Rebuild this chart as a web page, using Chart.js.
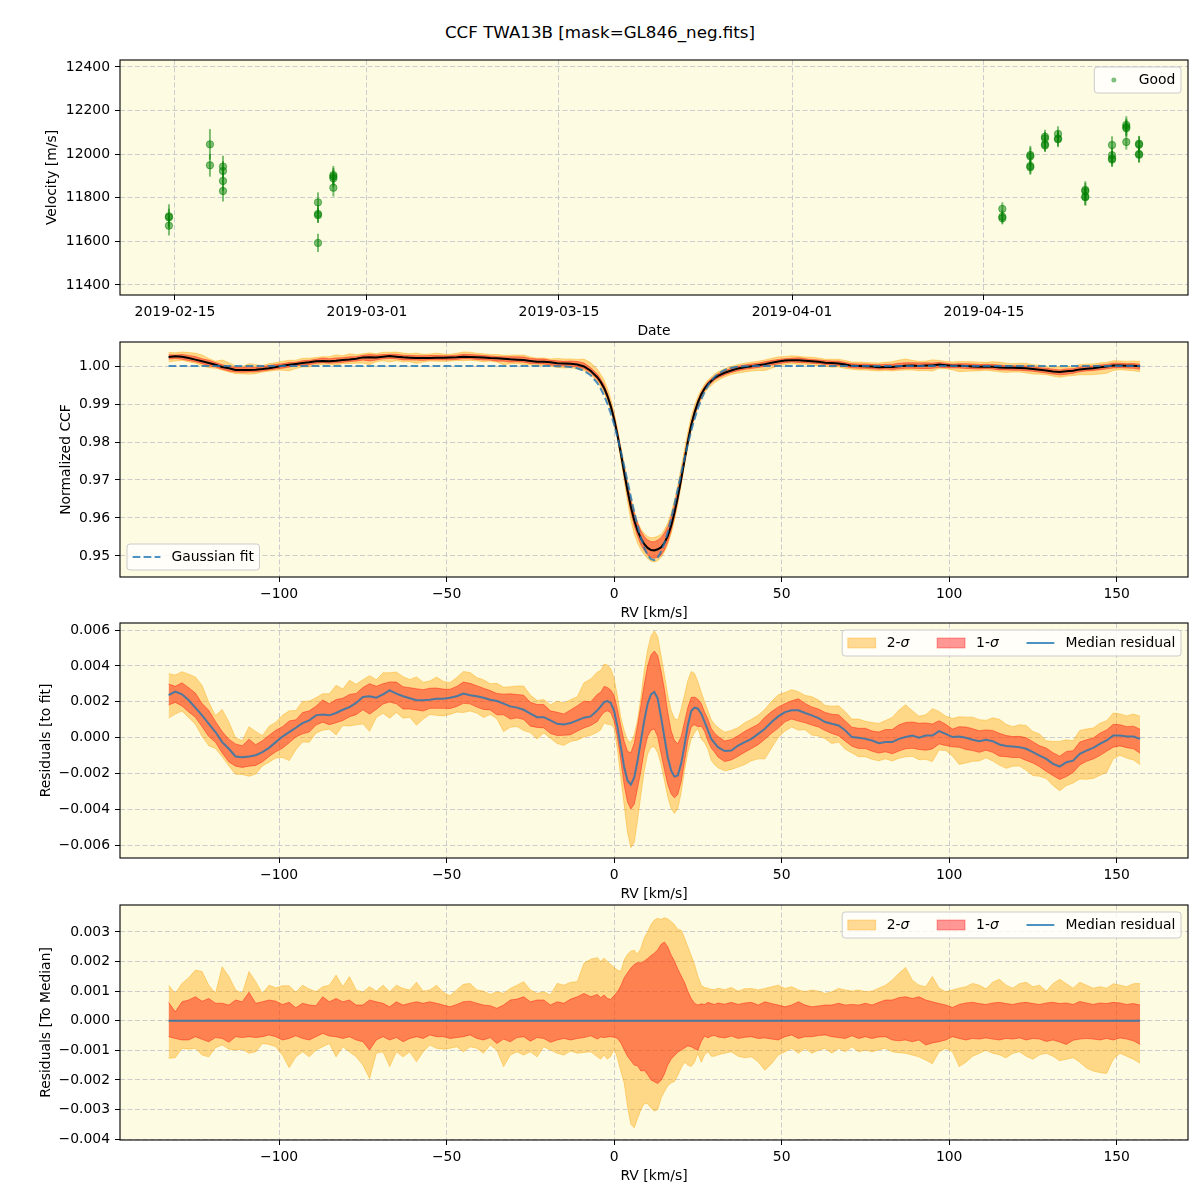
<!DOCTYPE html>
<html>
<head>
<meta charset="utf-8">
<script src="https://cdn.jsdelivr.net/npm/chart.js@4.4.1/dist/chart.umd.min.js"></script>
<style>
  body { margin: 0; background: #ffffff; width: 1200px; height: 1200px; position: relative; overflow: hidden; }
  canvas { position: absolute; left: 0; }
  #suptitle { position: absolute; left: 0; top: 22px; width: 1200px; text-align: center;
    font-family: "DejaVu Sans", sans-serif; font-size: 16.7px; line-height: 20px; color: #000; }
</style>
</head>
<body>
<div id="suptitle">CCF TWA13B [mask=GL846_neg.fits]</div>
<canvas id="velChart" width="1200" height="338" style="top:0px"></canvas>
<canvas id="ccfChart" width="1200" height="282" style="top:338px"></canvas>
<canvas id="fitResChart" width="1200" height="281" style="top:620px"></canvas>
<canvas id="medResChart" width="1200" height="282" style="top:901px"></canvas>
<script>
// ---- radial velocities (days since 2019-02-15) ----
const velDay = [-0.44, -0.44, -0.44, 2.55, 2.55, 3.5, 3.5, 3.5, 3.5,
  10.43, 10.43, 10.43, 10.43, 11.55, 11.55, 11.55, 11.55,
  60.34, 60.34, 60.34, 62.38, 62.38, 62.38, 62.38, 63.45, 63.45, 63.45, 63.45,
  64.40, 64.40, 64.40, 66.39, 66.39, 66.39, 66.39, 68.34, 68.34, 68.34, 68.34,
  69.38, 69.38, 69.38, 69.38, 70.31, 70.31, 70.31, 70.31];
const velValue = [11715, 11710, 11672, 12045, 11949, 11943, 11923, 11877, 11831,
  11779, 11726, 11720, 11593, 11904, 11897, 11889, 11846,
  11749, 11713, 11706, 11996, 11990, 11946, 11940, 12080, 12072, 12046, 12040,
  12093, 12072, 12068, 11836, 11830, 11806, 11802, 12042, 11995, 11980, 11975,
  12134, 12125, 12119, 12056, 12048, 12043, 12001, 11997];
const velError = [55, 40, 45, 70, 52, 50, 45, 45, 48,
  46, 40, 35, 42, 42, 40, 40, 40,
  30, 30, 28, 42, 40, 35, 34, 32, 30, 32, 30,
  35, 35, 36, 40, 38, 40, 38, 40, 35, 36, 33,
  40, 38, 38, 35, 36, 38, 38, 36];
const dateTickDays = [0, 14, 28, 45, 59];
const dateTickLabels = ['2019-02-15', '2019-03-01', '2019-03-15', '2019-04-01', '2019-04-15'];
const velTicks = [11400, 11600, 11800, 12000, 12200, 12400];

// ---- CCF grid (km/s) ----
const rvGrid = [
  -133, -131, -129, -127, -125, -123, -121, -119, -117, -115, -113, -111, -109, -107, -105, -103, -101, -99, -97, -95,
  -93, -91, -89, -87, -85, -83, -81, -79, -77, -75, -73, -71, -69, -67, -65, -63, -61, -59, -57, -55,
  -53, -51, -49, -47, -45, -43, -41, -39, -37, -35, -33, -31, -29, -27, -25, -23, -21, -19, -17, -15,
  -13, -11, -9, -7, -5,
  -4, -3, -2, -1, 0, 1, 2, 3, 4, 5, 6, 7, 8, 9, 10, 11, 12, 13, 14, 15,
  16, 17, 18, 19, 20, 21, 22, 23, 24, 25, 26, 27, 28, 29, 30,
  31, 33, 35, 37, 39, 41, 43, 45, 47, 49, 51, 53, 55, 57, 59, 61, 63, 65, 67, 69,
  71, 73, 75, 77, 79, 81, 83, 85, 87, 89, 91, 93, 95, 97, 99, 101, 103, 105, 107, 109,
  111, 113, 115, 117, 119, 121, 123, 125, 127, 129, 131, 133, 135, 137, 139, 141, 143, 145, 147, 149,
  151, 153, 155, 157];

// gaussian fit
const gaussFit = [
  1, 1, 1, 1, 1, 1, 1, 1, 1, 1, 1, 1, 1, 1, 1, 1, 1, 1, 1, 1,
  1, 1, 1, 1, 1, 1, 1, 1, 1, 1, 1, 1, 1, 1, 1, 1, 1, 1, 1, 1,
  1, 1, 1, 1, 1, 1, 1, 1, 1, 1, 1, 1, 1, 1, 1, 1, 1, 1, 0.99996, 0.99990,
  0.99975, 0.99942, 0.99877, 0.99756, 0.99550,
  0.99403, 0.99223, 0.99006, 0.98749, 0.98453, 0.98121, 0.97756, 0.97366, 0.96962, 0.96555,
  0.96162, 0.95797, 0.95476, 0.95214, 0.95024, 0.94915, 0.94893, 0.94958, 0.95109, 0.95336,
  0.95630, 0.95974, 0.96356, 0.96758, 0.97165, 0.97564, 0.97942, 0.98292, 0.98606, 0.98882,
  0.99119, 0.99317, 0.99480, 0.99611, 0.99714,
  0.99793, 0.99897, 0.99952, 0.99980, 0.99992, 0.99997, 1, 1, 1, 1, 1, 1, 1, 1, 1, 1, 1, 1, 1, 1,
  1, 1, 1, 1, 1, 1, 1, 1, 1, 1, 1, 1, 1, 1, 1, 1, 1, 1, 1, 1,
  1, 1, 1, 1, 1, 1, 1, 1, 1, 1, 1, 1, 1, 1, 1, 1, 1, 1, 1, 1,
  1, 1, 1, 1];

// median residual to the fit, units of 1e-3
const residMedian = [
  2.37, 2.57, 2.42, 2.09, 1.68, 1.25, 0.78, 0.32, -0.24, -0.61, -1.04, -1.08, -1.04, -0.97, -0.80, -0.56, -0.24, 0.07, 0.32, 0.56,
  0.82, 0.97, 1.25, 1.30, 1.25, 1.38, 1.56, 1.71, 1.94, 2.27, 2.31, 2.23, 2.42, 2.64, 2.46, 2.31, 2.20, 2.09, 2.09, 2.12,
  2.18, 2.18, 2.23, 2.31, 2.46, 2.37, 2.31, 2.23, 2.12, 2.05, 1.90, 1.75, 1.68, 1.56, 1.34, 1.15, 1.15, 0.97, 0.78, 0.74,
  0.82, 0.97, 1.12, 1.19, 1.53,
  1.75, 1.99, 2.05, 1.94, 1.49, 0.60, -0.52, -1.64, -2.38, -2.61, -2.20, -1.27, -0.15, 0.97, 1.90, 2.42, 2.55, 2.18, 1.15, 0.04,
  -1.08, -1.82, -2.16, -2.10, -1.45, -0.43, 0.69, 1.49, 1.68, 1.62, 1.34, 0.88, 0.41, -0.06, -0.30,
  -0.52, -0.74, -0.71, -0.43, -0.24, -0.06, 0.22, 0.50, 0.88, 1.19, 1.43, 1.53, 1.53, 1.38, 1.25, 1.10, 0.88, 0.78, 0.69, 0.41,
  0.04, 0.00, -0.06, -0.15, -0.30, -0.24, -0.24, -0.06, 0.04, 0.13, 0.00, 0.13, 0.13, 0.37, 0.22, 0.04, 0.07, 0.00, -0.11, -0.19,
  -0.11, -0.19, -0.37, -0.45, -0.48, -0.52, -0.61, -0.80, -0.99, -1.17, -1.45, -1.60, -1.36, -1.27, -0.89, -0.71, -0.56, -0.34, -0.15, 0.13,
  0.13, 0.07, 0.07, -0.06];

// spread around the median (residuals to median), units of 1e-3
const sig2Hi = [
  1.20, 0.92, 1.26, 1.45, 1.71, 1.66, 1.20, 0.92, 1.82, 1.49, 1.04, 0.92, 1.66, 1.32, 0.92, 1.20, 1.11, 1.18, 1.18, 0.96,
  1.20, 1.07, 0.98, 1.15, 1.20, 1.54, 1.15, 1.49, 1.04, 0.96, 1.15, 1.00, 1.20, 0.98, 1.20, 1.09, 1.04, 1.30, 1.00, 1.04,
  1.20, 0.96, 0.84, 1.04, 1.23, 1.26, 1.04, 1.00, 0.89, 0.98, 0.92, 1.09, 1.20, 1.32, 1.04, 0.92, 0.98, 0.87, 1.26, 1.20,
  1.30, 1.32, 1.94, 2.08, 2.13,
  2.00, 2.11, 2.00, 1.90, 1.80, 1.71, 1.66, 2.05, 2.25, 2.35, 2.38, 2.25, 2.45, 2.80, 3.00, 3.25, 3.40, 3.46, 3.42, 3.48,
  3.44, 3.35, 3.25, 3.08, 3.06, 2.80, 2.50, 2.20, 1.90, 1.50, 1.20, 1.12, 1.10, 1.06, 1.05,
  1.10, 1.05, 1.12, 1.00, 1.08, 1.09, 1.04, 1.09, 1.15, 1.20, 1.09, 1.15, 1.04, 0.98, 1.04, 1.00, 0.92, 0.98, 1.09, 1.04,
  1.00, 1.04, 0.98, 1.00, 1.10, 1.20, 1.37, 1.60, 1.80, 1.37, 1.20, 1.15, 1.49, 1.10, 0.98, 1.04, 1.10, 1.15, 1.26, 1.20,
  1.08, 1.30, 1.40, 1.20, 1.10, 1.25, 1.30, 1.15, 1.20, 1.00, 1.25, 1.40, 1.25, 1.10, 1.30, 1.20, 1.10, 1.15, 1.10, 1.25,
  1.20, 1.15, 1.25, 1.26];
const sig1Hi = [
  0.62, 0.30, 0.64, 0.70, 0.81, 0.66, 0.75, 0.59, 0.59, 0.53, 0.70, 0.64, 0.96, 0.59, 0.64, 0.70, 0.66, 0.55, 0.62, 0.44,
  0.59, 0.53, 0.51, 0.81, 0.64, 0.75, 0.64, 0.70, 0.53, 0.53, 0.70, 0.64, 0.59, 0.47, 0.64, 0.53, 0.59, 0.64, 0.59, 0.64,
  0.59, 0.53, 0.47, 0.55, 0.64, 0.66, 0.59, 0.53, 0.51, 0.42, 0.53, 0.70, 0.73, 0.81, 0.64, 0.70, 0.70, 0.53, 0.64, 0.59,
  0.73, 0.81, 0.92, 0.81, 0.89,
  0.78, 0.87, 0.75, 0.72, 0.85, 0.98, 1.18, 1.45, 1.62, 1.78, 1.90, 1.97, 1.95, 2.02, 2.10, 2.20, 2.28, 2.40, 2.58, 2.66,
  2.50, 2.22, 2.02, 1.75, 1.52, 1.30, 1.00, 0.75, 0.59, 0.53, 0.57, 0.55, 0.62, 0.58, 0.55,
  0.60, 0.56, 0.62, 0.55, 0.60, 0.62, 0.53, 0.64, 0.58, 0.53, 0.47, 0.53, 0.64, 0.53, 0.47, 0.50, 0.53, 0.53, 0.59, 0.53,
  0.55, 0.53, 0.59, 0.53, 0.62, 0.70, 0.70, 0.78, 0.81, 0.75, 0.81, 0.70, 0.64, 0.58, 0.53, 0.45, 0.55, 0.60, 0.62, 0.58,
  0.55, 0.60, 0.62, 0.58, 0.55, 0.60, 0.62, 0.58, 0.55, 0.60, 0.62, 0.58, 0.60, 0.55, 0.65, 0.60, 0.55, 0.60, 0.58, 0.62,
  0.60, 0.55, 0.58, 0.53];
const sig1Lo = [
  -0.54, -0.60, -0.65, -0.65, -0.54, -0.63, -0.71, -0.57, -0.60, -0.73, -0.54, -0.57, -0.54, -0.57, -0.54, -0.48, -0.54, -0.65, -0.60, -0.51,
  -0.60, -0.65, -0.54, -0.43, -0.52, -0.54, -0.60, -0.54, -0.65, -0.71, -0.99, -0.65, -0.54, -0.65, -0.57, -0.71, -0.60, -0.54, -0.60, -0.48,
  -0.54, -0.54, -0.60, -0.57, -0.54, -0.48, -0.60, -0.65, -0.57, -0.77, -0.62, -0.71, -0.57, -0.54, -0.69, -0.57, -0.60, -0.73, -0.65, -0.60,
  -0.65, -0.60, -0.57, -0.51, -0.62,
  -0.55, -0.57, -0.55, -0.54, -0.56, -0.60, -0.75, -0.98, -1.20, -1.35, -1.50, -1.52, -1.70, -1.68, -1.82, -2.00, -2.06, -2.12, -2.02, -1.80,
  -1.50, -1.30, -1.18, -1.06, -1.00, -0.92, -0.85, -0.88, -0.95, -1.00, -0.70, -0.52, -0.58, -0.52, -0.50,
  -0.55, -0.58, -0.52, -0.60, -0.56, -0.54, -0.60, -0.58, -0.62, -0.65, -0.54, -0.48, -0.60, -0.54, -0.54, -0.50, -0.48, -0.54, -0.57, -0.60,
  -0.51, -0.60, -0.54, -0.60, -0.55, -0.54, -0.65, -0.68, -0.65, -0.71, -0.65, -0.82, -0.75, -0.71, -0.65, -0.54, -0.60, -0.65, -0.60, -0.62,
  -0.58, -0.62, -0.65, -0.60, -0.62, -0.58, -0.65, -0.60, -0.62, -0.70, -0.65, -0.72, -0.80, -0.66, -0.62, -0.60, -0.62, -0.65, -0.60, -0.65,
  -0.58, -0.62, -0.68, -0.80];
const sig2Lo = [
  -1.27, -1.25, -0.93, -0.96, -0.93, -1.16, -1.22, -0.91, -0.82, -0.96, -0.99, -0.96, -1.10, -1.05, -0.77, -0.80, -0.88, -1.16, -1.59, -1.22,
  -1.05, -1.22, -0.99, -0.88, -0.77, -1.22, -0.88, -1.05, -1.22, -1.50, -1.95, -1.10, -1.05, -1.55, -1.05, -1.22, -1.05, -1.39, -1.05, -0.82,
  -0.93, -0.96, -0.93, -0.88, -1.05, -0.88, -0.93, -1.10, -0.82, -0.99, -1.55, -1.16, -1.05, -1.16, -1.05, -1.22, -0.88, -0.99, -1.10, -1.16,
  -1.02, -1.10, -1.07, -1.05, -1.22,
  -1.30, -1.16, -1.30, -1.20, -0.95, -1.27, -1.70, -2.10, -2.90, -3.50, -3.62, -3.30, -3.00, -2.80, -2.80, -2.95, -3.05, -3.00, -2.62, -2.40,
  -2.20, -2.10, -2.05, -1.85, -1.60, -1.40, -1.50, -1.55, -1.40, -1.10, -1.40, -1.15, -1.05, -1.20, -1.20,
  -1.15, -1.10, -1.05, -1.20, -1.25, -1.22, -1.39, -1.67, -1.45, -1.16, -1.05, -0.93, -1.10, -0.93, -1.10, -1.00, -0.93, -1.10, -0.93, -1.05,
  -0.88, -1.05, -0.99, -1.05, -0.98, -0.93, -1.05, -1.08, -1.10, -1.16, -1.22, -1.33, -1.45, -1.05, -0.93, -1.05, -1.55, -1.40, -1.20, -1.10,
  -1.00, -1.10, -1.15, -1.25, -1.10, -1.05, -1.20, -1.30, -1.15, -1.10, -1.20, -1.35, -1.30, -1.25, -1.40, -1.60, -1.70, -1.75, -1.78, -1.30,
  -1.10, -1.20, -1.30, -1.44];

const rvTicks = [-100, -50, 0, 50, 100, 150];
const ccfTicks = [0.95, 0.96, 0.97, 0.98, 0.99, 1.00];
const fitResTicks = [-0.006, -0.004, -0.002, 0, 0.002, 0.004, 0.006];
const medResTicks = [-0.004, -0.003, -0.002, -0.001, 0, 0.001, 0.002, 0.003];

// ---- styling ----
const PLOT_BG = '#fdfbe2';
const GRID_COLOR = '#cccccc';
const FILL_2SIG = 'rgba(255,165,0,0.4)';
const FILL_1SIG = 'rgba(255,0,0,0.4)';
const MED_BLUE = 'rgba(31,119,180,0.8)';
const GOOD_GREEN = 'rgba(0,128,0,0.5)';
const FONT = '"DejaVu Sans", "Liberation Sans", sans-serif';

Chart.defaults.font.family = FONT;
Chart.defaults.font.size = 13.9;
Chart.defaults.color = '#000000';
Chart.defaults.animation = false;

const minus = (s) => s.replace('-', '\u2212');

const framePlugin = {
  id: 'frame',
  beforeDraw(chart) {
    const {ctx, chartArea: a} = chart;
    ctx.save();
    ctx.fillStyle = PLOT_BG;
    ctx.fillRect(a.left, a.top, a.right - a.left, a.bottom - a.top);
    ctx.restore();
  },
  afterDatasetsDraw(chart) {
    const {ctx, chartArea: a} = chart;
    ctx.save();
    ctx.strokeStyle = '#000000';
    ctx.lineWidth = 1.1;
    ctx.strokeRect(a.left, a.top, a.right - a.left, a.bottom - a.top);
    ctx.restore();
  }
};

function labelWidth(ctx, parts) {
  let w = 0;
  parts.forEach(p => {
    ctx.font = (p.italic ? 'italic ' : '') + '13.9px ' + FONT;
    w += ctx.measureText(p.text).width;
  });
  return w;
}

// matplotlib-like legend box drawn inside the axes
const boxLegend = {
  id: 'boxLegend',
  afterDraw(chart, args, opts) {
    if (!opts || !opts.items) return;
    const {ctx, chartArea: a} = chart;
    const pad = 5.6, handle = 27.8, textPad = 11.1, colSpace = 27.8, h = 26;
    ctx.save();
    const widths = opts.items.map(it => labelWidth(ctx, it.label));
    const n = opts.items.length;
    const w = 2 * pad + widths.reduce((s, v) => s + v, 0) + n * (handle + textPad) + (n - 1) * colSpace;
    let x0, y0;
    if (opts.loc === 'lower left') {
      x0 = a.left + 7; y0 = a.bottom - 7 - h;
    } else {
      x0 = a.right - 7 - w; y0 = a.top + 7;
    }
    ctx.beginPath();
    ctx.roundRect(x0, y0, w, h, 3);
    ctx.fillStyle = 'rgba(255,255,255,0.8)';
    ctx.fill();
    ctx.strokeStyle = '#cccccc';
    ctx.lineWidth = 1;
    ctx.stroke();

    const cy = y0 + h / 2;
    let x = x0 + pad;
    opts.items.forEach((it, i) => {
      if (it.kind === 'patch') {
        ctx.fillStyle = it.color;
        ctx.fillRect(x, cy - 4.9, handle, 9.8);
        ctx.strokeStyle = it.color;
        ctx.lineWidth = 1;
        ctx.strokeRect(x, cy - 4.9, handle, 9.8);
      } else if (it.kind === 'line') {
        ctx.strokeStyle = it.color;
        ctx.lineWidth = 2;
        ctx.setLineDash(it.dash || []);
        ctx.beginPath();
        ctx.moveTo(x, cy);
        ctx.lineTo(x + handle, cy);
        ctx.stroke();
        ctx.setLineDash([]);
      } else if (it.kind === 'dot') {
        ctx.fillStyle = it.color;
        ctx.beginPath();
        ctx.arc(x + handle / 2, cy, 2.5, 0, Math.PI * 2);
        ctx.fill();
      }
      let tx = x + handle + textPad;
      ctx.fillStyle = '#000000';
      ctx.textBaseline = 'middle';
      ctx.textAlign = 'left';
      it.label.forEach(p => {
        ctx.font = (p.italic ? 'italic ' : '') + '13.9px ' + FONT;
        ctx.fillText(p.text, tx, cy);
        tx += ctx.measureText(p.text).width;
      });
      x += handle + textPad + widths[i] + colSpace;
    });
    ctx.restore();
  }
};

const errorBars = {
  id: 'errorBars',
  beforeDatasetsDraw(chart) {
    const {ctx, scales: {x, y}} = chart;
    ctx.save();
    ctx.strokeStyle = GOOD_GREEN;
    ctx.lineWidth = 2;
    velDay.forEach((d, i) => {
      const px = x.getPixelForValue(d);
      ctx.beginPath();
      ctx.moveTo(px, y.getPixelForValue(velValue[i] - velError[i]));
      ctx.lineTo(px, y.getPixelForValue(velValue[i] + velError[i]));
      ctx.stroke();
    });
    ctx.restore();
  }
};

function gridOpts() {
  return {color: GRID_COLOR, lineWidth: 1, tickLength: 5, tickColor: '#000000', tickWidth: 1, tickBorderDash: []};
}

function xAxis(min, max, ticks, label, title) {
  return {
    type: 'linear', min: min, max: max,
    afterBuildTicks: (axis) => { axis.ticks = ticks.map(v => ({value: v})); },
    afterFit: (axis) => { axis.height = 43; axis.paddingLeft = 0; axis.paddingRight = 0; },
    ticks: {callback: label, padding: 4, maxRotation: 0, autoSkip: false},
    grid: gridOpts(),
    border: {display: false, dash: [5, 2.5]},
    title: {display: true, text: title, padding: {top: 0, bottom: -2}}
  };
}

function yAxis(min, max, ticks, label, title, padLeft) {
  return {
    min: min, max: max,
    afterBuildTicks: (axis) => { axis.ticks = ticks.map(v => ({value: v})); },
    afterFit: (axis) => { axis.width = 120 - padLeft; axis.paddingTop = 0; axis.paddingBottom = 0; },
    ticks: {callback: label, padding: 5, autoSkip: false},
    grid: gridOpts(),
    border: {display: false, dash: [5, 2.5]},
    title: {display: true, text: title, padding: {top: 0, bottom: 0}}
  };
}

function baseOptions(padTop, padLeft, scales, legend) {
  return {
    responsive: false,
    animation: false,
    layout: {padding: {left: padLeft, right: 12, top: padTop, bottom: 0}},
    elements: {point: {radius: 0}, line: {tension: 0}},
    scales: scales,
    plugins: {legend: {display: false}, tooltip: {enabled: false}, boxLegend: legend}
  };
}

const rvLabel = (v) => minus(String(v));

// ---- panel 1: velocities ----
new Chart(document.getElementById('velChart'), {
  type: 'scatter',
  data: {
    datasets: [{
      data: velDay.map((d, i) => ({x: d, y: velValue[i]})),
      pointRadius: 3.7,
      pointBackgroundColor: GOOD_GREEN,
      pointBorderColor: GOOD_GREEN,
      pointBorderWidth: 1
    }]
  },
  options: baseOptions(60, 43.7, {
    x: xAxis(-4.01, 73.88, dateTickDays, (v) => dateTickLabels[dateTickDays.indexOf(v)] || '', 'Date'),
    y: yAxis(11354, 12432, velTicks, (v) => String(v), 'Velocity [m/s]', 43.7)
  }, {loc: 'upper right', items: [{kind: 'dot', color: GOOD_GREEN, label: [{text: 'Good'}]}]}),
  plugins: [framePlugin, errorBars, boxLegend]
});

// ---- helpers for band panels ----
const toPoints = (ys) => rvGrid.map((v, i) => ({x: v, y: ys[i]}));
const ccfMedian = gaussFit.map((g, i) => g + residMedian[i] / 1000);
const ccfLevel = (offs) => toPoints(ccfMedian.map((b, i) => b + offs[i] / 1000));
const fitResLevel = (offs) => toPoints(residMedian.map((m, i) => (m + offs[i]) / 1000));
const medResLevel = (offs) => toPoints(offs.map(o => o / 1000));

function bandSets(level) {
  return [
    {data: level(sig2Hi), borderColor: FILL_2SIG, backgroundColor: FILL_2SIG, borderWidth: 1, fill: '+1', order: 4},
    {data: level(sig2Lo), borderColor: FILL_2SIG, borderWidth: 1, fill: false, order: 4},
    {data: level(sig1Hi), borderColor: FILL_1SIG, backgroundColor: FILL_1SIG, borderWidth: 1, fill: '+1', order: 3},
    {data: level(sig1Lo), borderColor: FILL_1SIG, borderWidth: 1, fill: false, order: 3}
  ];
}

const sigmaLegend = {
  loc: 'upper right',
  items: [
    {kind: 'patch', color: FILL_2SIG, label: [{text: '2-'}, {text: '\u03c3', italic: true}]},
    {kind: 'patch', color: FILL_1SIG, label: [{text: '1-'}, {text: '\u03c3', italic: true}]},
    {kind: 'line', color: MED_BLUE, label: [{text: 'Median residual'}]}
  ]
};

// ---- panel 2: normalized CCF ----
new Chart(document.getElementById('ccfChart'), {
  type: 'line',
  data: {
    datasets: bandSets(ccfLevel).concat([
      {data: toPoints(ccfMedian), borderColor: '#000000', borderWidth: 2, fill: false, order: 1},
      {data: toPoints(gaussFit), borderColor: MED_BLUE, borderWidth: 2, borderDash: [7.7, 3.3], fill: false, order: 0}
    ])
  },
  options: baseOptions(4, 57.7, {
    x: xAxis(-147.5, 171.3, rvTicks, rvLabel, 'RV [km/s]'),
    y: yAxis(0.94447, 1.00632, ccfTicks, (v) => v.toFixed(2), 'Normalized CCF', 57.7)
  }, {loc: 'lower left', items: [{kind: 'line', color: MED_BLUE, dash: [7.7, 3.3], label: [{text: 'Gaussian fit'}]}]}),
  plugins: [framePlugin, boxLegend]
});

// ---- panel 3: residuals to the fit ----
new Chart(document.getElementById('fitResChart'), {
  type: 'line',
  data: {
    datasets: bandSets(fitResLevel).concat([
      {data: toPoints(residMedian.map(m => m / 1000)), borderColor: MED_BLUE, borderWidth: 2, fill: false, order: 1}
    ])
  },
  options: baseOptions(3, 37.7, {
    x: xAxis(-147.5, 171.3, rvTicks, rvLabel, 'RV [km/s]'),
    y: yAxis(-0.00669, 0.00639, fitResTicks, (v) => minus(v.toFixed(3)), 'Residuals [to fit]', 37.7)
  }, sigmaLegend),
  plugins: [framePlugin, boxLegend]
});

// ---- panel 4: residuals to the median ----
new Chart(document.getElementById('medResChart'), {
  type: 'line',
  data: {
    datasets: bandSets(medResLevel).concat([
      {data: rvGrid.map(v => ({x: v, y: 0})), borderColor: MED_BLUE, borderWidth: 2, fill: false, order: 1}
    ])
  },
  options: baseOptions(4, 37.7, {
    x: xAxis(-147.5, 171.3, rvTicks, rvLabel, 'RV [km/s]'),
    y: yAxis(-0.00403, 0.00391, medResTicks, (v) => minus(v.toFixed(3)), 'Residuals [To Median]', 37.7)
  }, sigmaLegend),
  plugins: [framePlugin, boxLegend]
});
</script>
</body>
</html>
